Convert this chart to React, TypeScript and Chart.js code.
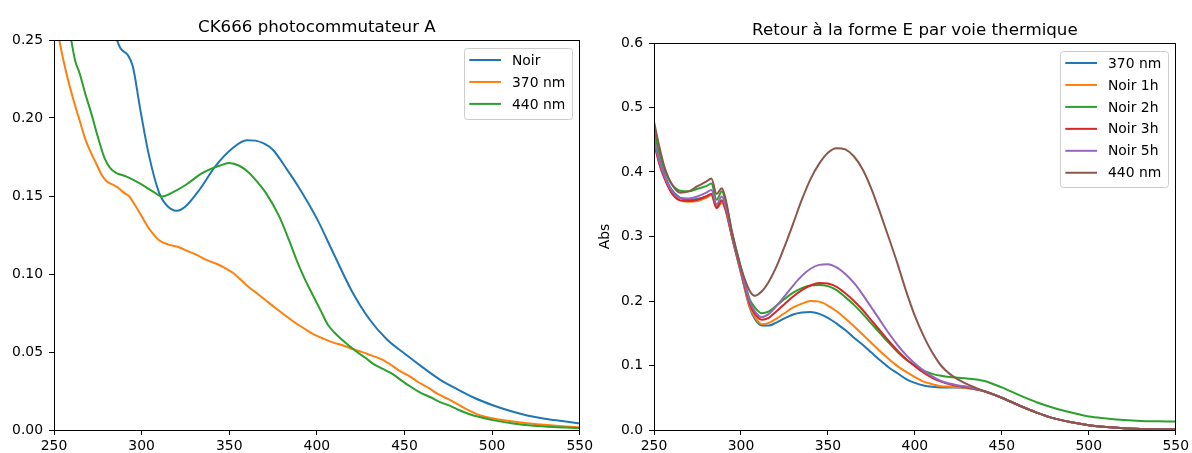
import React, { useEffect, useRef } from "react";
import { Chart, registerables } from "chart.js";

Chart.register(...registerables);

const FONT = '"DejaVu Sans", sans-serif';
const COLORS = ["#1f77b4", "#ff7f0e", "#2ca02c", "#d62728", "#9467bd", "#8c564b"];

// ---------- Left chart ----------
const leftTitle = "CK666 photocommutateur A";
const leftLabels = ["Noir", "370 nm", "440 nm"];

const noirWl = [250, 260, 270, 280, 284, 286, 288, 292, 295, 299, 304, 310, 314, 320, 325, 333, 342, 352, 360, 365, 370, 375, 383, 390, 400, 410, 420, 430, 440, 450, 460, 470, 480, 490, 500, 510, 520, 530, 540, 550];
const noirAbs = [0.5, 0.4, 0.33, 0.28, 0.262, 0.25, 0.2445, 0.2405, 0.233, 0.207, 0.177, 0.152, 0.1444, 0.1405, 0.1433, 0.154, 0.169, 0.1808, 0.1858, 0.1855, 0.1835, 0.1795, 0.1669, 0.155, 0.1355, 0.112, 0.089, 0.071, 0.058, 0.049, 0.0405, 0.0325, 0.0262, 0.0205, 0.016, 0.0123, 0.0093, 0.0072, 0.0057, 0.0042];

const o370Wl = [250, 253, 257, 261, 265, 268, 271, 274, 277, 280, 284, 287, 290, 293, 296, 299, 304, 310, 315, 321, 326, 332, 337, 343, 347, 352, 356, 360, 366, 371, 376, 382, 387, 393, 398, 404, 409, 415, 420, 426, 431, 437, 442, 447, 453, 458, 464, 469, 475, 480, 485, 491, 496, 502, 510, 520, 530, 540, 550];
const o370Abs = [0.27, 0.25, 0.229, 0.212, 0.197, 0.186, 0.178, 0.171, 0.164, 0.1595, 0.157, 0.155, 0.152, 0.1497, 0.1445, 0.139, 0.1295, 0.1216, 0.119, 0.1173, 0.1148, 0.112, 0.109, 0.1064, 0.1042, 0.1008, 0.097, 0.0927, 0.0875, 0.083, 0.0785, 0.0734, 0.0692, 0.0649, 0.0615, 0.0584, 0.0562, 0.0542, 0.0521, 0.0499, 0.0478, 0.0453, 0.042, 0.0381, 0.0344, 0.0306, 0.0268, 0.0231, 0.0198, 0.0167, 0.0135, 0.0103, 0.0085, 0.0071, 0.0057, 0.0043, 0.0033, 0.0024, 0.0017];

const g440Wl = [250, 255, 259.8, 262, 264.5, 268, 271.2, 275, 278.8, 282, 285.4, 291.1, 298.7, 306.3, 311.6, 317.7, 325.3, 334.8, 344.3, 350, 355.7, 361.4, 366, 370.9, 378.5, 384, 388.5, 393, 397.3, 402, 406, 410, 414.7, 419, 423.5, 428, 432.2, 437, 443.1, 448, 454, 459, 464.9, 470, 475.8, 481, 486.7, 494, 502, 512, 523.8, 535, 550];
const g440Abs = [0.3, 0.275, 0.25, 0.237, 0.229, 0.215, 0.2033, 0.188, 0.1744, 0.168, 0.1648, 0.1626, 0.1583, 0.153, 0.1497, 0.1523, 0.1572, 0.1648, 0.1694, 0.1711, 0.1694, 0.1648, 0.159, 0.152, 0.1369, 0.122, 0.1087, 0.097, 0.0873, 0.077, 0.068, 0.0625, 0.0575, 0.0535, 0.0495, 0.046, 0.0424, 0.0395, 0.036, 0.032, 0.0274, 0.024, 0.021, 0.018, 0.0156, 0.0128, 0.0103, 0.008, 0.006, 0.0042, 0.0028, 0.002, 0.0013];

const leftYTicks = [0, 0.05, 0.1, 0.15, 0.2, 0.25];

// ---------- Right chart ----------
const rightTitle = "Retour à la forme E par voie thermique";
const rightYLabel = "Abs";
const rightLabels = ["370 nm", "Noir 1h", "Noir 2h", "Noir 3h", "Noir 5h", "440 nm"];

const rightWl = [250, 253, 256, 260, 265, 270, 275, 280, 283, 286, 289, 291, 295, 300, 305, 308, 312, 316, 320, 325, 330, 335, 340, 345, 350, 355, 360, 365, 370, 375, 380, 385, 390, 395, 400, 405, 410, 415, 420, 425, 430, 440, 450, 460, 470, 480, 490, 500, 510, 520, 530, 540, 550];

const abs370 = [0.452, 0.42, 0.396, 0.373, 0.36, 0.357, 0.358, 0.362, 0.366, 0.346, 0.356, 0.346, 0.298, 0.243, 0.19, 0.172, 0.162, 0.162, 0.166, 0.173, 0.179, 0.182, 0.183, 0.18, 0.174, 0.165, 0.155, 0.143, 0.132, 0.12, 0.108, 0.097, 0.088, 0.079, 0.073, 0.069, 0.067, 0.066, 0.066, 0.066, 0.065, 0.06, 0.05, 0.038, 0.027, 0.018, 0.012, 0.0075, 0.0045, 0.0027, 0.0017, 0.0012, 0.001];
const absNoir1h = [0.448, 0.415, 0.392, 0.37, 0.356, 0.354, 0.355, 0.36, 0.364, 0.344, 0.352, 0.342, 0.297, 0.244, 0.192, 0.175, 0.164, 0.166, 0.172, 0.181, 0.19, 0.196, 0.2, 0.199, 0.193, 0.184, 0.173, 0.161, 0.148, 0.135, 0.122, 0.11, 0.099, 0.09, 0.082, 0.075, 0.071, 0.068, 0.067, 0.066, 0.065, 0.06, 0.05, 0.038, 0.027, 0.018, 0.012, 0.0075, 0.0045, 0.0027, 0.0017, 0.0012, 0.001];
const absNoir2h = [0.465, 0.43, 0.404, 0.382, 0.371, 0.37, 0.374, 0.378, 0.382, 0.357, 0.37, 0.356, 0.305, 0.252, 0.203, 0.19, 0.181, 0.184, 0.192, 0.203, 0.213, 0.22, 0.224, 0.225, 0.223, 0.217, 0.206, 0.194, 0.18, 0.165, 0.15, 0.135, 0.121, 0.109, 0.1, 0.092, 0.087, 0.084, 0.082, 0.081, 0.08, 0.076, 0.066, 0.054, 0.043, 0.034, 0.027, 0.021, 0.018, 0.0155, 0.014, 0.0135, 0.013];
const absNoir3h = [0.445, 0.413, 0.39, 0.368, 0.356, 0.355, 0.357, 0.362, 0.366, 0.344, 0.356, 0.343, 0.298, 0.246, 0.196, 0.18, 0.171, 0.174, 0.183, 0.195, 0.207, 0.217, 0.224, 0.228, 0.227, 0.222, 0.212, 0.2, 0.186, 0.17, 0.154, 0.138, 0.123, 0.11, 0.099, 0.089, 0.081, 0.075, 0.071, 0.068, 0.066, 0.06, 0.05, 0.038, 0.027, 0.018, 0.012, 0.0075, 0.0045, 0.0027, 0.0017, 0.0012, 0.001];
const absNoir5h = [0.45, 0.418, 0.394, 0.372, 0.36, 0.359, 0.362, 0.368, 0.372, 0.35, 0.362, 0.348, 0.3, 0.248, 0.2, 0.184, 0.175, 0.18, 0.191, 0.207, 0.224, 0.239, 0.25, 0.256, 0.257, 0.252, 0.242, 0.228, 0.21, 0.19, 0.17, 0.15, 0.132, 0.116, 0.103, 0.092, 0.083, 0.076, 0.072, 0.069, 0.067, 0.06, 0.05, 0.038, 0.027, 0.018, 0.012, 0.0075, 0.0045, 0.0027, 0.0017, 0.0012, 0.001];
const abs440 = [0.478, 0.44, 0.408, 0.382, 0.368, 0.37, 0.378, 0.385, 0.39, 0.366, 0.375, 0.36, 0.305, 0.252, 0.216, 0.208, 0.215, 0.23, 0.251, 0.284, 0.32, 0.357, 0.389, 0.413, 0.43, 0.437, 0.435, 0.424, 0.404, 0.374, 0.337, 0.298, 0.258, 0.215, 0.177, 0.146, 0.12, 0.1, 0.087, 0.078, 0.071, 0.06, 0.05, 0.038, 0.027, 0.018, 0.012, 0.0075, 0.0045, 0.0027, 0.0017, 0.0012, 0.001];

const rightYTicks = [0, 0.1, 0.2, 0.3, 0.4, 0.5, 0.6];
const xTicks = [250, 300, 350, 400, 450, 500, 550];

// ---------- helpers ----------
function series(wl: number[], abs: number[], label: string, i: number, n: number) {
  return {
    label,
    data: wl.map((x, k) => ({ x, y: abs[k] })),
    borderColor: COLORS[i],
    backgroundColor: COLORS[i],
    borderWidth: 2,
    pointRadius: 0,
    fill: false,
    cubicInterpolationMode: "monotone" as const,
    borderJoinStyle: "round" as const,
    order: n - i,
  };
}

const decorPlugin = {
  id: "decor",
  afterDatasetsDraw(chart: any, _args: any, opts: any) {
    const { ctx, chartArea: a } = chart;
    ctx.save();
    // spines
    ctx.strokeStyle = "#000";
    ctx.lineWidth = 1;
    const L = Math.floor(a.left) + 0.5;
    const T = Math.floor(a.top) + 0.5;
    const R = Math.floor(a.right) + 0.5;
    const B = Math.floor(a.bottom) + 0.5;
    ctx.strokeRect(L, T, R - L, B - T);

    // title
    ctx.fillStyle = "#000";
    ctx.font = `16.67px ${FONT}`;
    ctx.textAlign = "center";
    ctx.textBaseline = "alphabetic";
    ctx.fillText(opts.title, (a.left + a.right) / 2, a.top - 8.3);

    // y label
    if (opts.ylabel) {
      ctx.save();
      ctx.font = `13.9px ${FONT}`;
      ctx.translate(opts.ylabelX, (a.top + a.bottom) / 2);
      ctx.rotate(-Math.PI / 2);
      ctx.textAlign = "center";
      ctx.textBaseline = "middle";
      ctx.fillText(opts.ylabel, 0, 0);
      ctx.restore();
    }

    // legend
    const items = chart.data.datasets.map((d: any) => ({ label: d.label, color: d.borderColor }));
    ctx.font = `13.9px ${FONT}`;
    let maxW = 0;
    items.forEach((it: any) => { maxW = Math.max(maxW, ctx.measureText(it.label).width); });
    const boxW = 47.7 + maxW + 7.5;
    const boxH = 11.6 + items.length * 15 + (items.length - 1) * 6.95;
    const bx = a.right - 7 - boxW;
    const by = a.top + 8;
    ctx.beginPath();
    ctx.roundRect(Math.round(bx) + 0.5, Math.round(by) + 0.5, Math.round(boxW), Math.round(boxH), 3);
    ctx.fillStyle = "rgba(255,255,255,0.8)";
    ctx.fill();
    ctx.strokeStyle = "#cccccc";
    ctx.lineWidth = 1;
    ctx.stroke();
    ctx.textAlign = "left";
    ctx.textBaseline = "middle";
    items.forEach((it: any, k: number) => {
      const cy = by + 12 + k * 21.95;
      ctx.strokeStyle = it.color;
      ctx.lineWidth = 2;
      ctx.beginPath();
      ctx.moveTo(bx + 5, cy);
      ctx.lineTo(bx + 36.7, cy);
      ctx.stroke();
      ctx.fillStyle = "#000";
      ctx.fillText(it.label, bx + 47.7, cy + 1);
    });
    ctx.restore();
  },
};

function makeConfig(opts: {
  datasets: any[];
  yMax: number;
  yTicks: number[];
  yDec: number;
  padTop: number;
  padRight: number;
  yWidth: number;
  title: string;
  ylabel?: string;
  ylabelX?: number;
}) {
  const tickFont = { family: FONT, size: 13.9 };
  const grid = {
    display: true,
    drawOnChartArea: false,
    drawTicks: true,
    tickLength: 5,
    tickColor: "#000",
    tickWidth: 1,
    color: "#000",
  };
  const border = { display: true, color: "#000", width: 1 };
  return {
    type: "line" as const,
    data: { datasets: opts.datasets },
    options: {
      animation: false as const,
      responsive: false,
      maintainAspectRatio: false,
      events: [],
      layout: { padding: { top: opts.padTop, right: opts.padRight, left: 0, bottom: 0 } },
      plugins: {
        legend: { display: false },
        title: { display: false },
        tooltip: { enabled: false },
        decor: { title: opts.title, ylabel: opts.ylabel, ylabelX: opts.ylabelX },
      },
      scales: {
        x: {
          type: "linear" as const,
          min: 250,
          max: 550,
          afterBuildTicks: (s: any) => { s.ticks = xTicks.map((v) => ({ value: v })); },
          afterFit: (s: any) => { s.height = 23; },
          grid,
          border,
          ticks: { font: tickFont, color: "#000", padding: 3, maxRotation: 0, callback: (v: any) => String(v) },
        },
        y: {
          type: "linear" as const,
          min: 0,
          max: opts.yMax,
          afterBuildTicks: (s: any) => { s.ticks = opts.yTicks.map((v) => ({ value: v })); },
          afterFit: (s: any) => { s.width = opts.yWidth; },
          grid,
          border,
          ticks: { font: tickFont, color: "#000", padding: 6, callback: (v: any) => Number(v).toFixed(opts.yDec) },
        },
      },
    },
    plugins: [decorPlugin],
  };
}

export default function App() {
  const leftRef = useRef<HTMLCanvasElement | null>(null);
  const rightRef = useRef<HTMLCanvasElement | null>(null);

  useEffect(() => {
    const leftSets = [
      series(noirWl, noirAbs, leftLabels[0], 0, 3),
      series(o370Wl, o370Abs, leftLabels[1], 1, 3),
      series(g440Wl, g440Abs, leftLabels[2], 2, 3),
    ];
    const rightArrays = [abs370, absNoir1h, absNoir2h, absNoir3h, absNoir5h, abs440];
    const rightSets = rightArrays.map((arr, i) => series(rightWl, arr, rightLabels[i], i, 6));

    const c1 = new Chart(leftRef.current as HTMLCanvasElement, makeConfig({
      datasets: leftSets,
      yMax: 0.25,
      yTicks: leftYTicks,
      yDec: 2,
      padTop: 40,
      padRight: 15,
      yWidth: 54,
      title: leftTitle,
    }) as any);
    const c2 = new Chart(rightRef.current as HTMLCanvasElement, makeConfig({
      datasets: rightSets,
      yMax: 0.6,
      yTicks: rightYTicks,
      yDec: 1,
      padTop: 43,
      padRight: 14,
      yWidth: 58,
      title: rightTitle,
      ylabel: rightYLabel,
      ylabelX: 9,
    }) as any);
    return () => {
      c1.destroy();
      c2.destroy();
    };
  }, []);

  return (
    <div style={{ position: "fixed", left: 0, top: 0, width: 1192, height: 453, background: "#fff" }}>
      <canvas ref={leftRef} width={596} height={453} style={{ position: "absolute", left: 0, top: 0, width: 596, height: 453 }} />
      <canvas ref={rightRef} width={596} height={453} style={{ position: "absolute", left: 596, top: 0, width: 596, height: 453 }} />
    </div>
  );
}
